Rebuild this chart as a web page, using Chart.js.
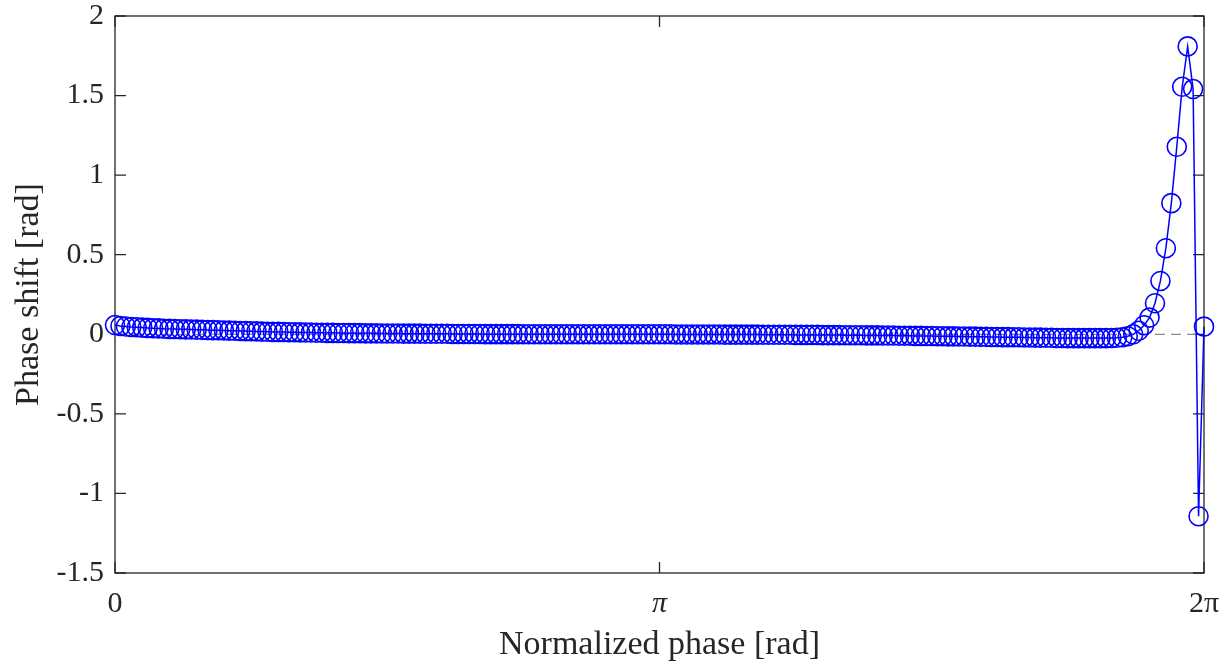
<!DOCTYPE html>
<html>
<head>
<meta charset="utf-8">
<script src="https://cdn.jsdelivr.net/npm/chart.js@4/dist/chart.umd.min.js"></script>
<style>
  html, body { margin: 0; padding: 0; background: #fff; }
</style>
</head>
<body>
<canvas id="chart" width="1231" height="670"></canvas>
<script>
// phase shift per sample, 201 samples over [0, 2pi]
const phaseShift = [
  0.058, 0.052, 0.049, 0.046, 0.044, 0.042, 0.040, 0.038, 0.037, 0.035,
  0.034, 0.033, 0.032, 0.031, 0.030, 0.029, 0.028, 0.027, 0.026, 0.025,
  0.024, 0.023, 0.022, 0.021, 0.020, 0.019, 0.018, 0.017, 0.016, 0.015,
  0.015, 0.014, 0.013, 0.013, 0.012, 0.011, 0.011, 0.010, 0.010, 0.009,
  0.009, 0.008, 0.008, 0.007, 0.007, 0.007, 0.006, 0.006, 0.006, 0.005,
  0.005, 0.005, 0.005, 0.004, 0.004, 0.004, 0.004, 0.003, 0.003, 0.003,
  0.003, 0.003, 0.002, 0.002, 0.002, 0.002, 0.002, 0.002, 0.001, 0.001,
  0.001, 0.001, 0.001, 0.001, 0.001, 0.000, 0.000, 0.000, 0.000, 0.000,
  0.000, 0.000, 0.000, 0.000, 0.000, 0.000, 0.000, 0.000, 0.000, 0.000,
  0.000, 0.000, 0.000, 0.000, 0.000, 0.000, 0.000, 0.000, 0.000, 0.000,
  0.000, 0.000, 0.000, -0.001, -0.001, -0.001, -0.001, -0.001, -0.001, -0.001,
  -0.001, -0.001, -0.002, -0.002, -0.002, -0.002, -0.002, -0.002, -0.002, -0.003,
  -0.003, -0.003, -0.003, -0.003, -0.003, -0.004, -0.004, -0.004, -0.004, -0.004,
  -0.005, -0.005, -0.005, -0.005, -0.006, -0.006, -0.006, -0.006, -0.007, -0.007,
  -0.007, -0.008, -0.008, -0.008, -0.009, -0.009, -0.009, -0.010, -0.010, -0.011,
  -0.011, -0.012, -0.012, -0.013, -0.013, -0.014, -0.014, -0.015, -0.015, -0.016,
  -0.016, -0.017, -0.017, -0.018, -0.018, -0.019, -0.019, -0.020, -0.020, -0.021,
  -0.021, -0.022, -0.022, -0.023, -0.023, -0.024, -0.024, -0.024, -0.024, -0.024,
  -0.024, -0.024, -0.024, -0.023, -0.022, -0.019, -0.012, 0.000, 0.022, 0.057,
  0.105, 0.195, 0.335, 0.541, 0.824, 1.178, 1.555, 1.809, 1.541, -1.143,
  0.048
];

const xTickValues = [0, Math.PI, 2 * Math.PI];
const xTickLabels = ['0', 'π', '2π'];
const yTickValues = [-1.5, -1, -0.5, 0, 0.5, 1, 1.5, 2];

const phaseStep = 2 * Math.PI / (phaseShift.length - 1);
const points = phaseShift.map((v, i) => ({ x: i * phaseStep, y: v }));

const axisColor = '#262626';
const serif = '"Liberation Serif", "Times New Roman", serif';

// box + inward ticks, MATLAB style
const boxPlugin = {
  id: 'box',
  beforeDatasetsDraw(chart) {
    const { ctx, chartArea: a, scales } = chart;
    const tl = 11;
    ctx.save();
    ctx.strokeStyle = axisColor;
    ctx.lineWidth = 1.3;
    ctx.strokeRect(a.left, a.top, a.right - a.left, a.bottom - a.top);
    ctx.beginPath();
    yTickValues.forEach((v) => {
      const y = scales.y.getPixelForValue(v);
      ctx.moveTo(a.left, y); ctx.lineTo(a.left + tl, y);
      ctx.moveTo(a.right, y); ctx.lineTo(a.right - tl, y);
    });
    xTickValues.forEach((v) => {
      const x = scales.x.getPixelForValue(v);
      ctx.moveTo(x, a.bottom); ctx.lineTo(x, a.bottom - tl);
      ctx.moveTo(x, a.top); ctx.lineTo(x, a.top + tl);
    });
    ctx.stroke();
    ctx.restore();
  }
};

new Chart(document.getElementById('chart'), {
  type: 'scatter',
  data: {
    datasets: [
      {
        data: points,
        showLine: true,
        borderColor: '#0000ff',
        borderWidth: 1.5,
        pointStyle: 'circle',
        pointRadius: 9.5,
        pointBorderWidth: 1.6,
        pointBorderColor: '#0000ff',
        pointBackgroundColor: 'rgba(0,0,0,0)',
        clip: false,
      },
      {
        data: [{ x: 0, y: 0 }, { x: 2 * Math.PI, y: 0 }],
        showLine: true,
        borderColor: '#8c8c8c',
        borderWidth: 1.3,
        borderDash: [10, 6],
        pointRadius: 0,
      },
    ],
  },
  options: {
    responsive: false,
    animation: false,
    layout: { padding: { top: 16, right: 27, left: 0, bottom: 0 } },
    plugins: { legend: { display: false }, tooltip: { enabled: false } },
    scales: {
      x: {
        type: 'linear',
        min: 0,
        max: 2 * Math.PI,
        grid: { display: false, drawTicks: false },
        border: { display: false },
        afterBuildTicks: (scale) => { scale.ticks = xTickValues.map((v) => ({ value: v })); },
        afterFit: (scale) => {
          scale.height = 97;
          scale.paddingLeft = 0;
          scale.paddingRight = 0;
        },
        ticks: {
          color: axisColor,
          font: (c) => ({
            family: serif,
            size: 30,
            style: c.tick && Math.abs(c.tick.value - Math.PI) < 1e-6 ? 'italic' : 'normal',
          }),
          padding: 13,
          maxRotation: 0,
          callback: (v) => {
            const k = xTickValues.findIndex((t) => Math.abs(t - v) < 1e-6);
            return k >= 0 ? xTickLabels[k] : '';
          },
        },
        title: {
          display: true,
          text: 'Normalized phase [rad]',
          color: axisColor,
          font: { family: serif, size: 34, lineHeight: 1.2 },
          padding: { top: 0, bottom: 5 },
        },
      },
      y: {
        min: -1.5,
        max: 2,
        grid: { display: false, drawTicks: false },
        border: { display: false },
        afterBuildTicks: (scale) => { scale.ticks = yTickValues.map((v) => ({ value: v })); },
        afterFit: (scale) => {
          scale.width = 115;
          scale.paddingTop = 0;
          scale.paddingBottom = 0;
        },
        ticks: {
          color: axisColor,
          font: { family: serif, size: 30 },
          padding: 11,
          callback: (v) => String(v),
        },
        title: {
          display: true,
          text: 'Phase shift [rad]',
          color: axisColor,
          font: { family: serif, size: 34, lineHeight: 1.2 },
          padding: { top: 9, bottom: 0 },
        },
      },
    },
  },
  plugins: [boxPlugin],
});
</script>
</body>
</html>
